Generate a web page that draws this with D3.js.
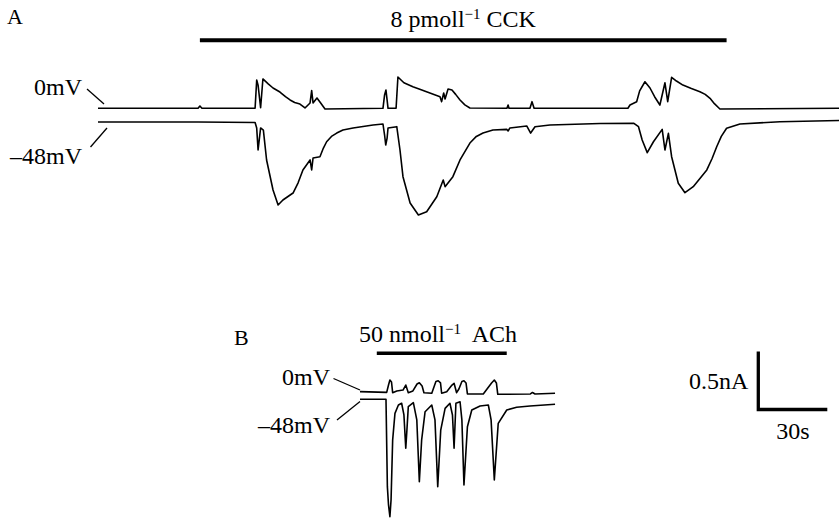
<!DOCTYPE html>
<html><head><meta charset="utf-8">
<script src="https://cdn.jsdelivr.net/npm/d3@7"></script>
<style>
html,body{margin:0;padding:0;background:#fff;}
svg{display:block;}
text{font-family:"Liberation Serif","Times New Roman",serif;fill:#000;}
</style></head>
<body>
<svg id="chart" width="839" height="519"></svg>
<script>
// ---- Data: time (s) and current (nA, relative to trace baseline) ----
// Panel A, held at 0 mV (outward currents)
const aTopT = [0,43.5,44.3,45.2,68.3,69.0,69.6,70.7,71.7,74.0,76.1,79.1,81.5,83.5,85.5,87.8,90.0,92.2,92.9,93.5,95.2,96.5,98.7,123.9,124.6,125.2,125.7,126.1,129.6,130.4,133.0,136.9,140.5,144.3,148.7,149.4,150.3,150.9,152.2,153.9,155.5,157.4,159.5,161.7,177.8,178.3,178.7,187.8,188.7,189.6,230.4,231.3,234.2,235.5,237.8,240.0,242.0,244.3,246.5,247.7,249.4,251.5,254.3,258.0,261.7,264.0,266.1,268.0,270.4,322.2];
const aTopV = [0,0,0.02,0,0,0.244,0.20,0.005,0.253,0.21,0.175,0.14,0.10,0.072,0.05,0.037,0.003,0.046,0.152,0.046,0.089,0.054,-0.006,0,0.115,0.158,0.07,0,0,0.27,0.22,0.186,0.16,0.132,0.10,0.057,0.132,0.08,0.166,0.158,0.12,0.072,0.03,0.003,0,0.028,0,0,0.057,0,0,0.028,0.057,0.15,0.229,0.175,0.10,0.028,0.22,0.057,0.267,0.235,0.20,0.17,0.143,0.12,0.086,0.04,-0.006,0];
// Panel A, held at -48 mV (inward currents)
const aBotT = [0,43.5,68.3,69.0,69.6,70.7,71.9,73.3,76.1,78.3,80.4,84.8,87.0,89.1,92.2,92.9,93.5,96.5,98.0,99.4,101.5,103.8,106.5,110.9,119.6,123.9,124.6,125.1,125.7,126.1,129.9,131.3,132.6,135.7,139.3,142.9,147.3,150.1,150.9,154.3,157.4,161.7,164.5,167.4,171.7,177.7,178.3,179.1,186.4,188.1,190.0,196.5,218.3,233.0,235.0,236.6,238.8,241.5,245.3,246.5,248.0,249.4,252.3,255.2,258.8,264.7,267.0,269.0,271.0,273.3,279.1,296.5,322.2];
const aBotV = [0.004,0.004,0,-0.047,-0.237,-0.047,-0.065,-0.323,-0.582,-0.711,-0.668,-0.608,-0.52,-0.409,-0.323,-0.409,-0.306,-0.295,-0.22,-0.166,-0.12,-0.091,-0.065,-0.047,-0.022,-0.013,-0.108,-0.194,-0.134,-0.047,-0.036,-0.237,-0.467,-0.694,-0.797,-0.769,-0.64,-0.496,-0.553,-0.467,-0.323,-0.177,-0.12,-0.091,-0.065,-0.059,-0.073,-0.047,-0.03,-0.091,-0.036,-0.022,-0.009,-0.007,-0.036,-0.151,-0.26,-0.166,-0.059,-0.237,-0.093,-0.295,-0.524,-0.605,-0.553,-0.409,-0.31,-0.209,-0.12,-0.05,-0.013,0.007,0.017];
// Panel B, held at 0 mV
const bTopT = [0,11.6,12.4,13.0,13.7,14.2,16.0,18.7,19.9,21.0,23.0,24.8,25.8,27.0,27.8,31.2,33.0,34.0,35.0,35.5,37.7,40.0,40.9,42.0,43.0,44.3,45.2,46.1,46.7,53.6,57.2,58.4,59.3,59.9,74.1,75.0,76.1,84.8];
const bTopV = [0.003,-0.003,0.06,0.103,0.086,-0.006,0.009,0.017,0.06,-0.006,0.009,0.069,0.08,0.052,-0.006,-0.011,0.091,0.097,0.078,-0.011,0.003,0.06,0.075,-0.006,0.026,0.091,0.097,0.078,-0.017,-0.017,0.078,0.103,0.078,-0.02,-0.017,-0.004,-0.017,-0.011];
// Panel B, held at -48 mV
const bBotT = [0,11.3,11.9,12.4,13.0,13.5,14.2,15.2,16.7,18.1,19.1,19.9,20.4,21.0,23.2,24.7,25.8,26.8,28.3,31.2,32.6,33.8,35.1,37.0,39.1,40.2,40.9,41.7,43.5,44.3,45.2,46.7,48.6,52.2,55.8,57.0,58.4,60.1,63.8,68.1,73.9,84.8];
const bBotV = [0,0,-0.753,-0.911,-1.012,-0.868,-0.351,-0.121,-0.049,-0.034,-0.135,-0.422,-0.265,-0.064,-0.029,-0.178,-0.71,-0.351,-0.107,-0.049,-0.178,-0.753,-0.265,-0.078,-0.034,-0.135,-0.422,-0.034,-0.021,-0.178,-0.739,-0.236,-0.092,-0.058,-0.049,-0.178,-0.696,-0.207,-0.092,-0.069,-0.058,-0.043];
// Drug application periods (s) and labels
const ccKPeriod = [44.3, 273.3];
const achPeriod = [7.3, 63.8];
const scaleBarTime = 30;   // s
const scaleBarCurrent = 0.5; // nA
const holdLabels = ["0mV", "\u201348mV"];

// ---- Scales ----
const x = d3.scaleLinear().domain([0, 30]).range([0, 69]);
const y = d3.scaleLinear().domain([0, 0.5]).range([0, -58]);
const line = d3.line().x(d => x(d[0])).y(d => y(d[1]));
const zip = (t, v) => t.map((ti, i) => [ti, v[i]]);

const svg = d3.select("#chart");
const FS = 24;

function trace(g, t, v) {
  g.append("path").datum(zip(t, v)).attr("d", line)
    .attr("fill", "none").attr("stroke", "#000").attr("stroke-width", 1.6)
    .attr("stroke-linejoin", "round");
}

// ---- Panel A ----
svg.append("text").attr("x", 7).attr("y", 24).attr("font-size", FS - 2).text("A");
const gA = svg.append("g").attr("transform", "translate(98,0)");
gA.append("line").attr("x1", x(ccKPeriod[0])).attr("x2", x(ccKPeriod[1]))
  .attr("y1", 40.3).attr("y2", 40.3).attr("stroke", "#000").attr("stroke-width", 4);
const tA = gA.append("text").attr("x", (x(ccKPeriod[0]) + x(ccKPeriod[1])) / 2).attr("y", 26.7)
  .attr("font-size", FS).attr("text-anchor", "middle");
tA.append("tspan").text("8 pmoll");
tA.append("tspan").attr("dy", -8).attr("font-size", 15).text("\u22121");
tA.append("tspan").attr("dy", 8).text(" CCK");
trace(gA.append("g").attr("transform", "translate(0,108.3)"), aTopT, aTopV);
trace(gA.append("g").attr("transform", "translate(0,122.5)"), aBotT, aBotV);

svg.append("text").attr("x", 82).attr("y", 95).attr("font-size", FS).attr("text-anchor", "end").text(holdLabels[0]);
svg.append("text").attr("x", 82).attr("y", 163.5).attr("font-size", FS).attr("text-anchor", "end").text(holdLabels[1]);
svg.append("line").attr("x1", 87).attr("y1", 89).attr("x2", 104).attr("y2", 104).attr("stroke", "#000").attr("stroke-width", 1.3);
svg.append("line").attr("x1", 90.5).attr("y1", 147).attr("x2", 107).attr("y2", 128).attr("stroke", "#000").attr("stroke-width", 1.3);

// ---- Panel B ----
svg.append("text").attr("x", 234).attr("y", 345).attr("font-size", FS - 2).text("B");
const gB = svg.append("g").attr("transform", "translate(360,0)");
gB.append("line").attr("x1", x(achPeriod[0])).attr("x2", x(achPeriod[1]))
  .attr("y1", 353.3).attr("y2", 353.3).attr("stroke", "#000").attr("stroke-width", 3.5);
const tB = svg.append("text").attr("x", 359).attr("y", 341.7).attr("font-size", FS);
tB.append("tspan").text("50 nmoll");
tB.append("tspan").attr("dy", -8).attr("font-size", 15).text("\u22121");
tB.append("tspan").attr("dy", 8).text("\u00a0 ACh");
trace(gB.append("g").attr("transform", "translate(0,392)"), bTopT, bTopV);
trace(gB.append("g").attr("transform", "translate(0,399.3)"), bBotT, bBotV);

svg.append("text").attr("x", 330).attr("y", 385).attr("font-size", FS).attr("text-anchor", "end").text(holdLabels[0]);
svg.append("text").attr("x", 330).attr("y", 433.3).attr("font-size", FS).attr("text-anchor", "end").text(holdLabels[1]);
svg.append("line").attr("x1", 333.5).attr("y1", 378.5).attr("x2", 360).attr("y2", 390).attr("stroke", "#000").attr("stroke-width", 1.3);
svg.append("line").attr("x1", 337).attr("y1", 420).attr("x2", 360).attr("y2", 401.5).attr("stroke", "#000").attr("stroke-width", 1.3);

// ---- Scale bar ----
const gS = svg.append("g").attr("transform", "translate(758.3,409.5)");
gS.append("path")
  .attr("d", d3.line()([[0, y(scaleBarCurrent)], [0, 0], [x(scaleBarTime), 0]]))
  .attr("fill", "none").attr("stroke", "#000").attr("stroke-width", 3.3).attr("stroke-linejoin", "miter");
gS.append("text").attr("x", -10).attr("y", -21).attr("font-size", FS).attr("text-anchor", "end").text(scaleBarCurrent + "nA");
gS.append("text").attr("x", x(scaleBarTime) / 2).attr("y", 29).attr("font-size", FS).attr("text-anchor", "middle").text(scaleBarTime + "s");
</script>
</body></html>
